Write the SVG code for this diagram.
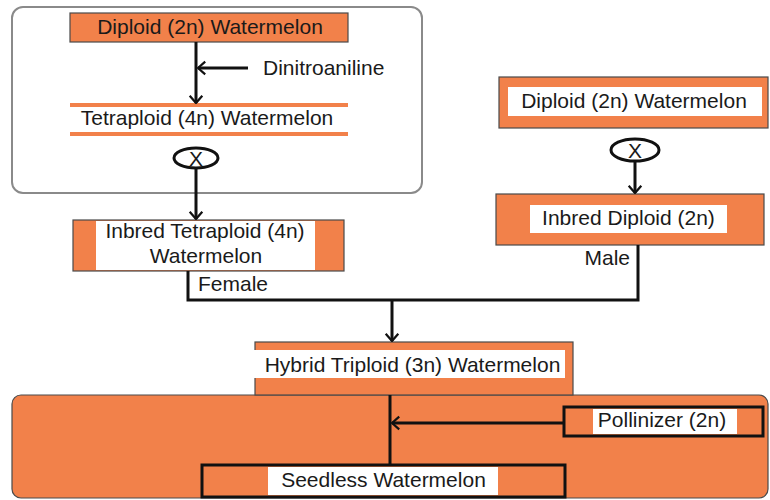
<svg xmlns="http://www.w3.org/2000/svg" width="770" height="500" viewBox="0 0 770 500">
  <style>
    text { font-family: "Liberation Sans", Arial, sans-serif; font-size: 21px; fill: #1a1a1a; }
    .mid { text-anchor: middle; }
    .end { text-anchor: end; }
    .org { fill: #F2814A; stroke: #4a4a4a; stroke-width: 1.2; }
    .orgf { fill: #F2814A; }
    .wht { fill: #ffffff; }
    .blk { fill: #F2814A; stroke: #111; stroke-width: 3; }
    .wire { fill: none; stroke: #111; stroke-width: 3; }
    .cross { fill: #ffffff; stroke: #111; stroke-width: 3; }
  </style>
  <defs>
    <marker id="chev" viewBox="0 0 10 16" refX="9" refY="8" markerWidth="9" markerHeight="16" markerUnits="userSpaceOnUse" orient="auto">
      <path d="M1,1 L9,8 L1,15" fill="none" stroke="#111" stroke-width="2.5"/>
    </marker>
  </defs>

  <rect width="770" height="500" fill="#ffffff"/>

  <!-- frame around the doubling step -->
  <rect id="doubling-frame" x="12" y="7" width="410" height="186" rx="11" fill="none" stroke="#8a8a8a" stroke-width="2"/>

  <!-- bottom field -->
  <g id="field">
    <rect x="12" y="395" width="756" height="103" rx="9" class="org"/>
  </g>

  <g id="diploid-a">
    <rect x="70" y="13" width="278" height="29" class="org"/>
    <text x="210" y="34" class="mid">Diploid (2n) Watermelon</text>
  </g>

  <g id="tetraploid">
    <rect x="70" y="103" width="278" height="4" class="orgf"/>
    <rect x="70" y="132" width="278" height="4" class="orgf"/>
    <text x="207" y="125" class="mid">Tetraploid (4n) Watermelon</text>
  </g>

  <g id="dinitroaniline">
    <text x="263" y="75">Dinitroaniline</text>
  </g>

  <g id="cross-a">
    <ellipse cx="196" cy="158" rx="22" ry="10" class="cross"/>
    <text x="196" y="165.5" class="mid">X</text>
  </g>

  <g id="inbred-tetraploid">
    <rect x="73" y="220" width="271" height="51" class="org"/>
    <rect x="96" y="221" width="219" height="49" class="wht"/>
    <text x="205" y="238" class="mid">Inbred Tetraploid (4n)</text>
    <text x="206" y="263" class="mid">Watermelon</text>
  </g>

  <g id="diploid-b">
    <rect x="499" y="77" width="269" height="51" class="org"/>
    <rect x="508" y="87" width="254" height="29" class="wht"/>
    <text x="634" y="108" class="mid">Diploid (2n) Watermelon</text>
  </g>

  <g id="cross-b">
    <ellipse cx="635" cy="150" rx="24" ry="11" class="cross"/>
    <text x="635" y="157.5" class="mid">X</text>
  </g>

  <g id="inbred-diploid">
    <rect x="496" y="194" width="268" height="51" class="org"/>
    <rect x="530" y="205" width="197" height="28" class="wht"/>
    <text x="628.5" y="225" class="mid">Inbred Diploid (2n)</text>
  </g>

  <g id="labels">
    <text x="198" y="291">Female</text>
    <text x="630" y="265" class="end">Male</text>
  </g>

  <g id="hybrid">
    <rect x="255" y="342" width="318" height="53" class="org"/>
    <rect x="253" y="350" width="312" height="28" class="wht"/>
    <text x="412.5" y="372" class="mid">Hybrid Triploid (3n) Watermelon</text>
  </g>

  <g id="pollinizer">
    <rect x="564" y="407" width="199" height="29" class="blk"/>
    <rect x="593" y="409" width="144" height="25" class="wht"/>
    <text x="662" y="427" class="mid">Pollinizer (2n)</text>
  </g>

  <g id="seedless">
    <rect x="202" y="465" width="363" height="32" class="blk"/>
    <rect x="268" y="467" width="230" height="28" class="wht"/>
    <text x="383.5" y="487" class="mid">Seedless Watermelon</text>
  </g>

  <g id="connectors">
    <line x1="196" y1="42" x2="196" y2="103" class="wire" marker-end="url(#chev)"/>
    <line x1="248" y1="68" x2="198" y2="68" class="wire" marker-end="url(#chev)"/>
    <line x1="196" y1="168" x2="196" y2="219" class="wire" marker-end="url(#chev)"/>
    <line x1="635" y1="161" x2="635" y2="193" class="wire" marker-end="url(#chev)"/>
    <polyline points="188,271 188,300 638,300 638,245" class="wire"/>
    <line x1="392" y1="300" x2="392" y2="341" class="wire" marker-end="url(#chev)"/>
    <line x1="390" y1="395" x2="390" y2="465" class="wire" stroke-width="2.5"/>
    <line x1="564" y1="423" x2="392" y2="423" class="wire" marker-end="url(#chev)"/>
  </g>
</svg>
